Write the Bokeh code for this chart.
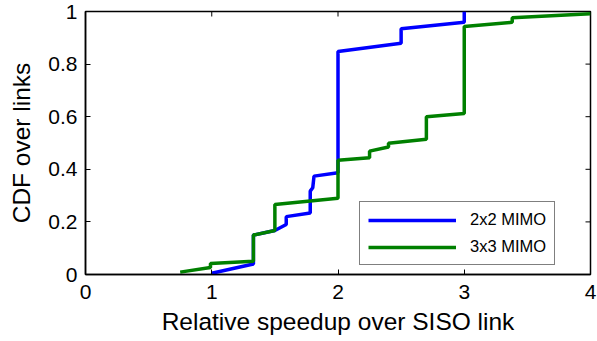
import math
from bokeh.plotting import figure
from bokeh.models import Range1d, FixedTicker, NumeralTickFormatter, Legend, LegendItem
from bokeh.embed import file_html
from bokeh.resources import INLINE

# 2x2 MIMO CDF polyline vertices
mimo2_x = [1.0, 1.33, 1.33, 1.5, 1.59, 1.59, 1.78, 1.78, 1.80, 1.81, 2.0, 2.0, 2.5, 2.5, 3.0, 3.0]
mimo2_y = [0.005, 0.04, 0.15, 0.167, 0.19, 0.22, 0.234, 0.317, 0.33, 0.374, 0.387, 0.848, 0.879, 0.934, 0.959, 1.0]
# 3x3 MIMO CDF polyline vertices
mimo3_x = [0.75, 0.99, 0.99, 1.33, 1.33, 1.5, 1.5, 2.0, 2.0, 2.25, 2.25, 2.4, 2.4, 2.7, 2.7, 3.0, 3.0, 3.38, 3.38, 4.0]
mimo3_y = [0.009, 0.027, 0.042, 0.05, 0.15, 0.167, 0.266, 0.29, 0.434, 0.444, 0.469, 0.485, 0.499, 0.514, 0.60, 0.612, 0.943, 0.959, 0.976, 0.991]

x_ticks = [0, 1, 2, 3, 4]
y_ticks = [0, 0.2, 0.4, 0.6, 0.8, 1.0]
x_min, x_max = 0, 4
y_min, y_max = 0, 1

FONT = "Liberation Sans"

p = figure(width=597, height=341, output_backend="svg", toolbar_location=None,
           x_range=Range1d(x_min, x_max), y_range=Range1d(y_min, y_max),
           min_border_left=85, min_border_right=7, min_border_top=11, min_border_bottom=67)
p.xgrid.visible = False
p.ygrid.visible = False
p.outline_line_color = "black"
p.outline_line_width = 1.5

# mirrored inward ticks on top and right edges
p.scatter(x_ticks, [y_max] * len(x_ticks), marker="dash", size=10, angle=math.pi / 2,
          line_color="black", line_width=1)
p.scatter([x_max] * len(y_ticks), y_ticks, marker="dash", size=10, angle=0,
          line_color="black", line_width=1)

r2 = p.line(mimo2_x, mimo2_y, line_color="#0000ff", line_width=3.5)
r3 = p.line(mimo3_x, mimo3_y, line_color="#008000", line_width=3.5)

p.xaxis.ticker = FixedTicker(ticks=x_ticks)
p.yaxis.ticker = FixedTicker(ticks=y_ticks)
p.yaxis.formatter = NumeralTickFormatter(format="0.[0]")
for ax in (p.xaxis[0], p.yaxis[0]):
    ax.major_tick_in = 5
    ax.major_tick_out = 0
    ax.minor_tick_line_color = None
    ax.axis_line_color = "black"
    ax.axis_line_width = 1.5
    ax.major_tick_line_color = "black"
    ax.major_label_text_font = FONT
    ax.major_label_text_font_size = "21px"
    ax.major_label_text_color = "black"
    ax.axis_label_text_font = FONT
    ax.axis_label_text_font_size = "24.5px"
    ax.axis_label_text_font_style = "normal"
    ax.axis_label_text_color = "black"
p.xaxis.major_label_standoff = 10
p.yaxis.major_label_standoff = 8
p.xaxis.axis_label = "Relative speedup over SISO link"
p.yaxis.axis_label = "CDF over links"
p.xaxis.axis_label_standoff = 6
p.yaxis.axis_label_standoff = 10

legend = Legend(items=[LegendItem(label="2x2 MIMO", renderers=[r2]),
                       LegendItem(label="3x3 MIMO", renderers=[r3])],
                location=(274, 9), orientation="vertical",
                label_text_font=FONT, label_text_font_size="16.5px", label_text_color="black",
                glyph_width=88, glyph_height=18, label_standoff=14, spacing=8, padding=8,
                label_width=0, border_line_color="black", border_line_width=1.5,
                background_fill_alpha=1.0, margin=0)
p.add_layout(legend, "center")

open("out.html", "w").write(file_html(p, INLINE))
